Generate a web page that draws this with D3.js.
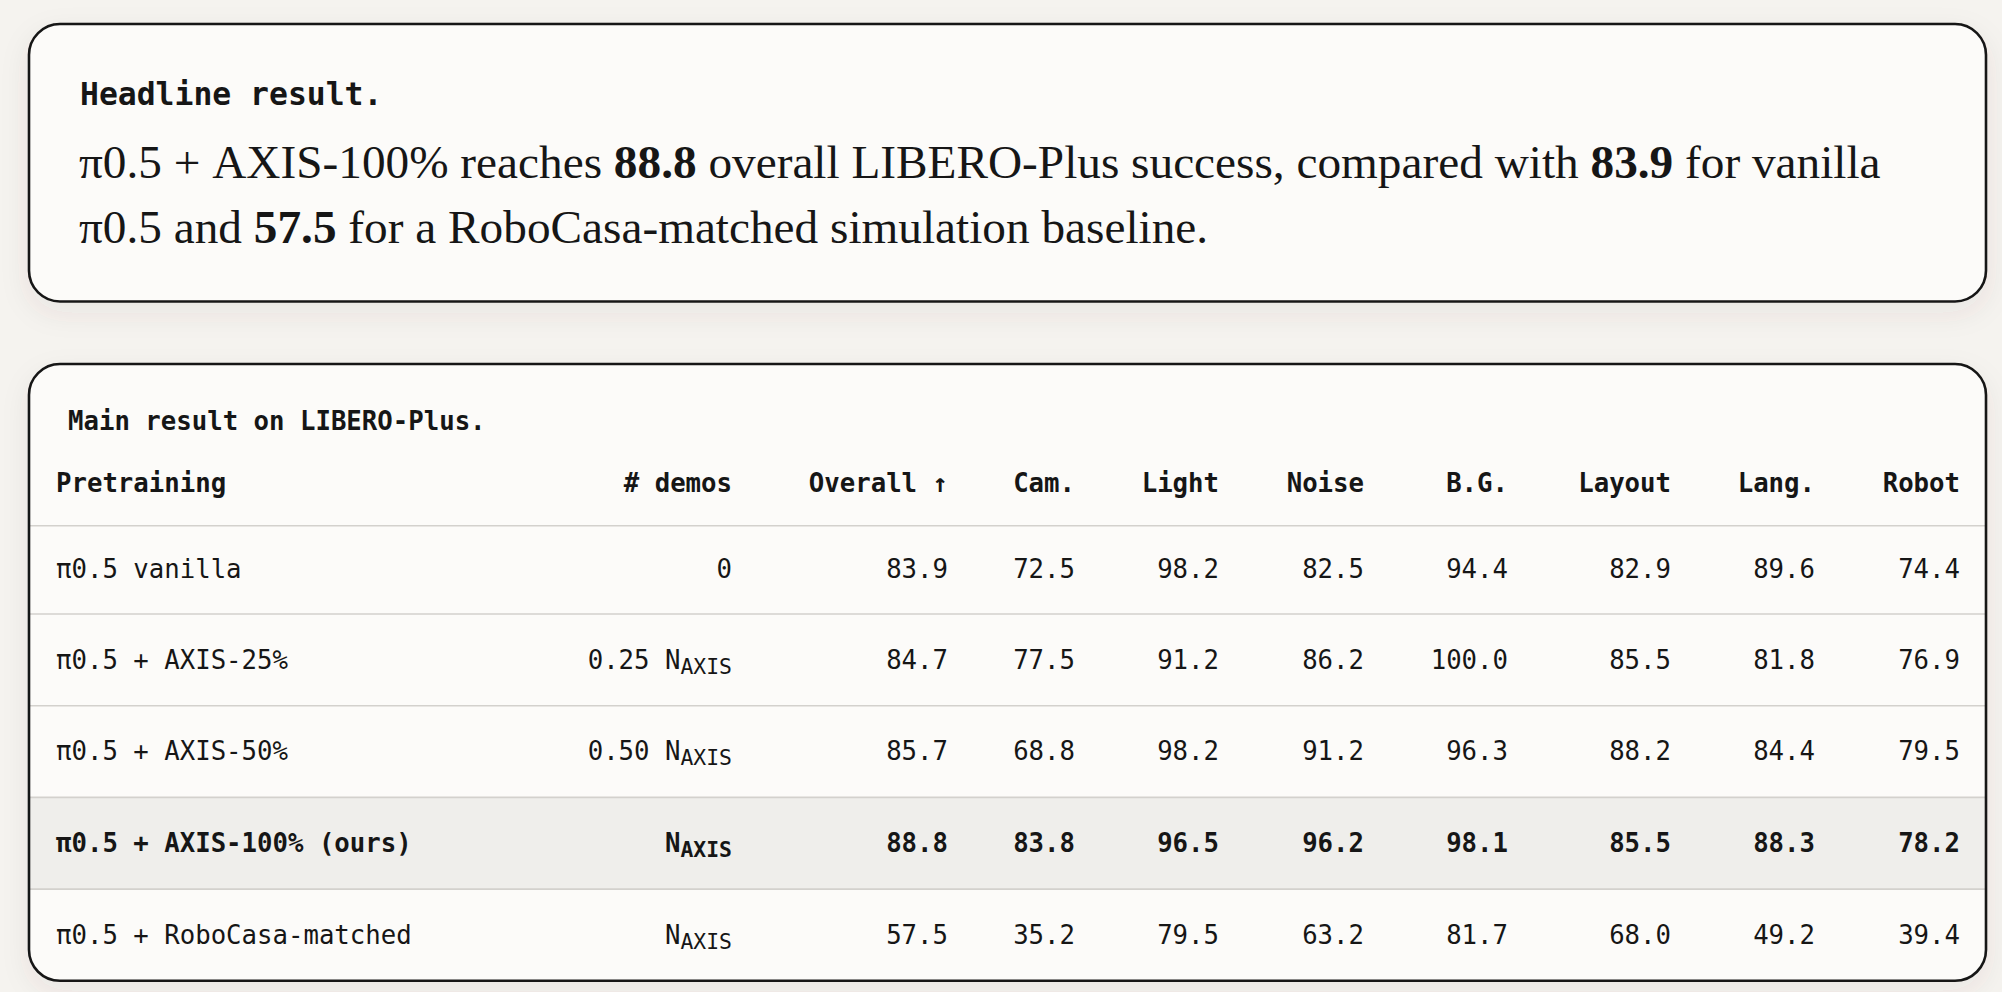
<!DOCTYPE html>
<html>
<head>
<meta charset="utf-8">
<script src="https://cdn.jsdelivr.net/npm/d3@7"></script>
<style>
  html, body { margin: 0; padding: 0; background: #f5f3ef; }
  svg { display: block; }
</style>
</head>
<body>
<div id="chart"></div>
<script>
// ---------------- data ----------------
const headlineLabel = "Headline result.";
const headlineLine1 = [
  { t: "π0.5 + AXIS-100% reaches ", b: false },
  { t: "88.8", b: true },
  { t: " overall LIBERO-Plus success, compared with ", b: false },
  { t: "83.9", b: true },
  { t: " for vanilla", b: false }
];
const headlineLine2 = [
  { t: "π0.5 and ", b: false },
  { t: "57.5", b: true },
  { t: " for a RoboCasa-matched simulation baseline.", b: false }
];

const tableTitle = "Main result on LIBERO-Plus.";
const columns = ["Pretraining", "# demos", "Overall ↑", "Cam.", "Light", "Noise", "B.G.", "Layout", "Lang.", "Robot"];
const methods = ["π0.5 vanilla", "π0.5 + AXIS-25%", "π0.5 + AXIS-50%", "π0.5 + AXIS-100% (ours)", "π0.5 + RoboCasa-matched"];
const demosMain = ["0", "0.25 N", "0.50 N", "N", "N"];
const demosSub  = ["", "AXIS", "AXIS", "AXIS", "AXIS"];
const overall = [83.9, 84.7, 85.7, 88.8, 57.5];
const cam     = [72.5, 77.5, 68.8, 83.8, 35.2];
const light   = [98.2, 91.2, 98.2, 96.5, 79.5];
const noise   = [82.5, 86.2, 91.2, 96.2, 63.2];
const bgScore = [94.4, 100.0, 96.3, 98.1, 81.7];
const layout  = [82.9, 85.5, 88.2, 85.5, 68.0];
const lang    = [89.6, 81.8, 84.4, 88.3, 49.2];
const robot   = [74.4, 76.9, 79.5, 78.2, 39.4];
const highlightMethod = "π0.5 + AXIS-100% (ours)";

// ---------------- layout ----------------
const W = 2002, H = 992;
const MONO = "'DejaVu Sans Mono', 'Liberation Mono', monospace";
const SERIF = "'Liberation Serif', 'DejaVu Serif', serif";
const INK = "#161616";
const fmt = d3.format(".1f");

const svg = d3.select("#chart").append("svg")
  .attr("width", W).attr("height", H)
  .attr("viewBox", `0 0 ${W} ${H}`);

svg.append("rect").attr("width", W).attr("height", H).attr("fill", "#f5f3ef");

const defs = svg.append("defs");
const f = defs.append("filter").attr("id", "shadow")
  .attr("x", "-5%").attr("y", "-10%").attr("width", "110%").attr("height", "130%");
f.append("feDropShadow").attr("dx", 0).attr("dy", 10).attr("stdDeviation", 14)
  .attr("flood-color", "#5a4a30").attr("flood-opacity", 0.08);

const cardX = 29, cardW = 1957;

// ----- headline card -----
svg.append("rect")
  .attr("x", cardX).attr("y", 24).attr("width", cardW).attr("height", 277.5)
  .attr("rx", 31).attr("ry", 31)
  .attr("fill", "#fcfbf9").attr("stroke", INK).attr("stroke-width", 2.6)
  .attr("filter", "url(#shadow)");

svg.append("text")
  .attr("x", 80).attr("y", 105)
  .attr("font-family", MONO).attr("font-weight", 700).attr("font-size", 31.4)
  .attr("fill", INK)
  .text(headlineLabel);

const serifG = svg.append("g").attr("font-family", SERIF).attr("fill", INK);
function serifLine(segs, y) {
  const t = serifG.append("text").attr("x", 79).attr("y", y);
  t.selectAll("tspan").data(segs).join("tspan")
    .attr("font-weight", d => d.b ? 700 : 400)
    .text(d => d.t);
  return t;
}
const l1 = serifLine(headlineLine1, 178);
const l2 = serifLine(headlineLine2, 243);
// fit font size so line 1 spans the measured width
serifG.attr("font-size", 44);
const w1 = l1.node().getComputedTextLength();
const fitSize = 44 * 1802 / w1;
serifG.attr("font-size", fitSize);

// ----- table card -----
const card2Top = 364;
const headerBottom = 525.7;
const rowH = d => d.sub ? 91.7 : 88.3;

const rows = methods.map((m, i) => ({
  method: m,
  main: demosMain[i],
  sub: demosSub[i],
  values: [overall[i], cam[i], light[i], noise[i], bgScore[i], layout[i], lang[i], robot[i]],
  bold: m === highlightMethod
}));
const heights = rows.map(rowH);
const tops = [headerBottom, ...d3.cumsum(heights).map(c => headerBottom + c)];
rows.forEach((r, i) => { r.top = tops[i]; r.h = heights[i]; });
const tableBottom = tops[tops.length - 1];

svg.append("rect")
  .attr("x", cardX).attr("y", card2Top).attr("width", cardW).attr("height", tableBottom - card2Top)
  .attr("rx", 31).attr("ry", 31)
  .attr("fill", "#fcfbf9").attr("stroke", "none")
  .attr("filter", "url(#shadow)");

// column anchor positions (right edges; first column left edge)
const xCol = d3.scaleOrdinal()
  .domain(columns)
  .range([56, 732, 948, 1075, 1219, 1364, 1508, 1671, 1815, 1960]);
const anchor = c => c === columns[0] ? "start" : "end";

// highlight row
svg.selectAll("rect.hl").data(rows.filter(r => r.bold)).join("rect")
  .attr("class", "hl")
  .attr("x", cardX).attr("y", d => d.top).attr("width", cardW).attr("height", d => d.h)
  .attr("fill", "#efeeeb");

// separators
svg.selectAll("line.sep").data(tops.slice(0, rows.length)).join("line")
  .attr("class", "sep")
  .attr("x1", cardX).attr("x2", cardX + cardW)
  .attr("y1", d => d).attr("y2", d => d)
  .attr("stroke", "#d3d1cd").attr("stroke-width", 1.6);

// card border on top
svg.append("rect")
  .attr("x", cardX).attr("y", card2Top).attr("width", cardW).attr("height", tableBottom - card2Top)
  .attr("rx", 31).attr("ry", 31)
  .attr("fill", "none").attr("stroke", INK).attr("stroke-width", 2.6);

const tg = svg.append("g").attr("font-family", MONO).attr("font-size", 25.7).attr("fill", INK);

tg.append("text").attr("x", 68).attr("y", 430).attr("font-weight", 700).text(tableTitle);

tg.selectAll("text.hdr").data(columns).join("text")
  .attr("class", "hdr")
  .attr("x", d => xCol(d)).attr("y", 492)
  .attr("text-anchor", anchor)
  .attr("font-weight", 700)
  .text(d => d);

const rowG = tg.selectAll("g.row").data(rows).join("g")
  .attr("class", "row")
  .attr("font-weight", d => d.bold ? 700 : 400)
  .attr("transform", d => `translate(0,${d.top + (d.sub ? 54.5 : 52.3)})`);

rowG.append("text")
  .attr("x", xCol(columns[0])).attr("text-anchor", "start")
  .text(d => d.method);

const demoT = rowG.append("text")
  .attr("x", xCol(columns[1])).attr("text-anchor", "end");
demoT.append("tspan").text(d => d.main);
demoT.filter(d => d.sub).append("tspan")
  .attr("dy", 5).attr("font-size", 21.4)
  .text(d => d.sub);

rowG.each(function(r) {
  d3.select(this).selectAll("text.val").data(r.values).join("text")
    .attr("class", "val")
    .attr("x", (v, j) => xCol(columns[j + 2]))
    .attr("text-anchor", "end")
    .text(v => fmt(v));
});
</script>
</body>
</html>
